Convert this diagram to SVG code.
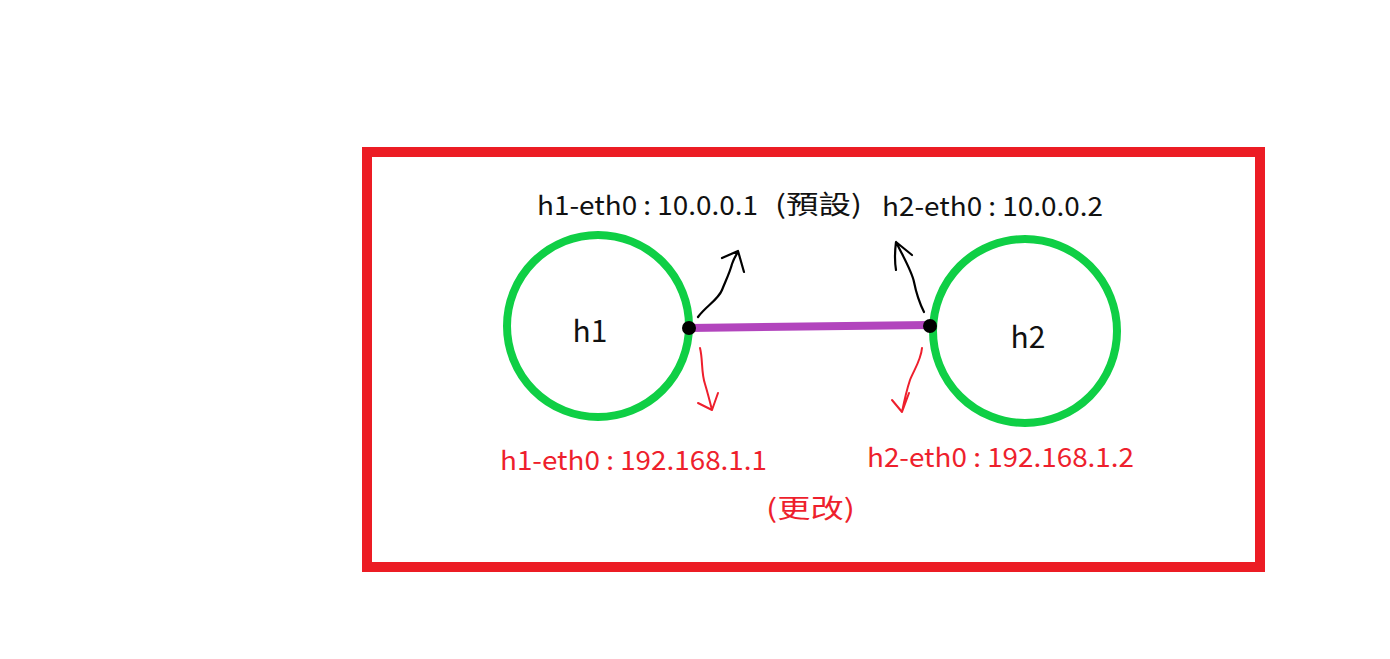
<svg xmlns="http://www.w3.org/2000/svg" width="1390" height="659" viewBox="0 0 1390 659">
<style>
.node{fill:none;stroke:#0fcf45;stroke-width:8}
.lbl{font-family:"Noto Sans CJK TC","Noto Sans",sans-serif;font-size:26px;fill:#111}
.red{fill:#ee1f2d}
.ink{fill:none;stroke:#000;stroke-width:2.2;stroke-linecap:round;stroke-linejoin:round}
.rink{fill:none;stroke:#ee1f2d;stroke-width:2;stroke-linecap:round;stroke-linejoin:round}
</style>
<rect width="1390" height="659" fill="#fff"/>
<rect x="367" y="152" width="893" height="415" fill="none" stroke="#ec1c24" stroke-width="10"/>
<g id="h1">
<circle class="node" cx="598" cy="326" r="91"/>
<text class="lbl" x="590" y="342" text-anchor="middle" style="font-size:30px">h1</text>
</g>
<g id="h2">
<circle class="node" cx="1025" cy="331" r="92"/>
<text class="lbl" x="1028" y="348" text-anchor="middle" style="font-size:30px">h2</text>
</g>
<g id="connectors">
<line x1="689" y1="328" x2="930" y2="325" stroke="#b245bd" stroke-width="8"/>
<path class="ink" d="M698,317 C706,306 718,300 722,290 C726,280 730,272 732,264 C734,258 736,255 738,252 M722,258 L738,251 L744,272"/>
<path class="ink" d="M924,312 C918,300 916,292 914,282 C912,272 906,262 896,242 M896,270 C894,258 895,250 896,242 L912,255"/>
<path class="rink" d="M700,348 C703,360 701,372 705,384 C708,394 710,402 712,410 M698,403 L712,410 L718,393"/>
<path class="rink" d="M922,348 C921,360 914,370 910,380 C906,392 904,402 902,412 M892,400 L902,412 L909,393"/>
<circle cx="689" cy="328" r="7" fill="#000"/>
<circle cx="930" cy="326" r="7" fill="#000"/>
</g>
<g id="labels">
<text class="lbl" x="537" y="215" textLength="221" lengthAdjust="spacingAndGlyphs">h1-eth0 : 10.0.0.1</text>
<text class="lbl" x="775" y="214" textLength="87" lengthAdjust="spacingAndGlyphs">(預設)</text>
<text class="lbl" x="882" y="216" textLength="221" lengthAdjust="spacingAndGlyphs">h2-eth0 : 10.0.0.2</text>
<text class="lbl red" x="500" y="470" textLength="267" lengthAdjust="spacingAndGlyphs">h1-eth0 : 192.168.1.1</text>
<text class="lbl red" x="867" y="467" textLength="267" lengthAdjust="spacingAndGlyphs">h2-eth0 : 192.168.1.2</text>
<text class="lbl red" x="766" y="518" textLength="89" lengthAdjust="spacingAndGlyphs">(更改)</text>
</g>
</svg>
